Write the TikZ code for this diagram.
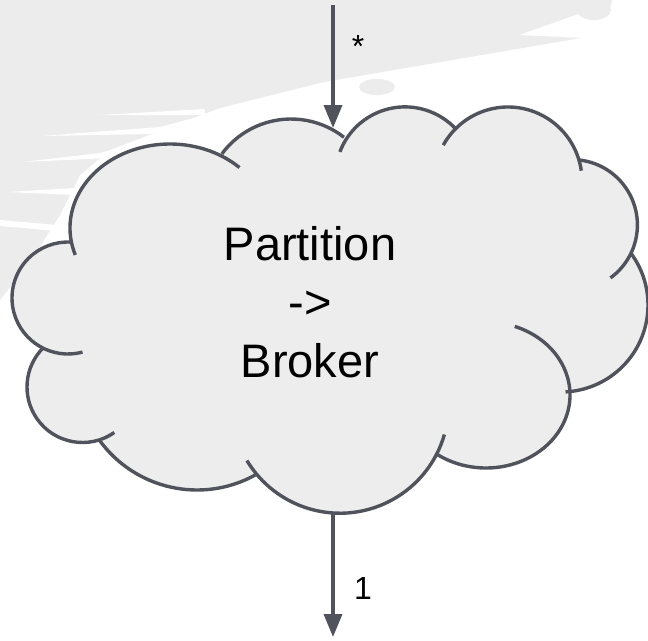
\documentclass[tikz,border=0pt]{standalone}
\usepackage{fontspec}
\setmainfont{Liberation Sans}
\usetikzlibrary{arrows.meta}
\definecolor{bggray}{RGB}{236,236,236}
\definecolor{cloudfill}{RGB}{237,237,237}
\definecolor{edge}{RGB}{80,83,92}
\begin{document}
\begin{tikzpicture}[x=1pt,y=1pt,yscale=-1,
  outline/.style={draw=edge,line width=3.4pt},
  flow/.style={draw=edge,line width=3.6pt,-{Triangle[length=23pt,width=18pt]}},
  cloudtext/.style={font=\fontsize{47}{56}\selectfont,inner sep=0pt,anchor=base,text=black},
  tag/.style={font=\fontsize{32}{38}\selectfont,inner sep=0pt,anchor=base,text=black},
  bg/.style={fill=bggray,draw=none},
  streak/.style={fill=white,draw=none}]
\useasboundingbox (0,0) rectangle (648,640);
\fill[white] (0,0) rectangle (648,640);
% brush-like background
\path[bg] (0,0) -- (612,0) -- (609,12) -- (594,20) -- (578,14) -- (519,35) -- (581,38)
  -- (324,82) -- (220,108) -- (110,150) -- (80,175) -- (60,215) -- (30,262) -- (0,300) -- cycle;
\path[bg] (594,10) ellipse[x radius=17,y radius=10];
\path[bg] (377,87) ellipse[x radius=18,y radius=8];
\path[streak] (100,115) -- (205,109) -- (205,115) -- cycle;
\path[streak] (42,136) -- (160,127) -- (205,115) -- (205,124) -- (150,134) -- cycle;
\path[streak] (23,162) -- (100,153) -- (130,145) -- (110,158) -- cycle;
\path[streak] (7,192) -- (75,188) -- (75,195) -- cycle;
\path[streak] (0,220) -- (68,226) -- (68,232) -- (0,226) -- cycle;
% cloud fill
\fill[cloudfill] (170,228) -- (291,205) -- (405,176.5) -- (508,181) -- (572,225) -- (561,305)
  -- (486,395) -- (340,404.6) -- (197,369.5) -- (82.5,387) -- (68,298) -- cycle;
\foreach \cx/\cy/\rx/\ry in {170/228/100/84, 291/205/86/86, 405/176.5/69.6/69.6, 508/181/74/74,
  572/225/65.4/65.4, 561/305/87/87, 486/395/84/73, 340/404.6/108.6/108.6, 197/369.5/120.5/120.5,
  82.5/387/55.5/55.5, 68/298/56/56}
  \fill[cloudfill] (\cx,\cy) ellipse[x radius=\rx,y radius=\ry];
% cloud outline lobes
\foreach \cx/\cy/\rx/\ry/\sa/\ea in {170/228/100/84/161.3/314, 291/205/86/86/216.5/308,
  405/176.5/69.6/69.6/200.7/317, 508/181/74/74/209/352, 572/225/65.4/65.4/276/414,
  561/305/87/87/-37/87, 486/395/84/73/-70/127, 340/404.6/108.6/108.6/16/149,
  197/369.5/120.5/120.5/61/144, 82.5/387/55.5/55.5/55/225, 68/298/56/56/75/273}
  \draw[outline] (\cx,\cy) ++({\sa}:{\rx} and {\ry}) arc[start angle=\sa,end angle=\ea,x radius=\rx,y radius=\ry];
% text
\node[cloudtext] (line1) at (310,260) {Partition};
\node[cloudtext] (line2) at (310,318.5) {->};
\node[cloudtext] (line3) at (310,377) {Broker};
% connectors
\coordinate (src) at (333,5);
\coordinate (cloudN) at (333,128);
\coordinate (cloudS) at (333,513);
\coordinate (sink) at (333,637);
\draw[flow] (src) -- (cloudN);
\draw[flow] (cloudS) -- (sink);
\node[tag] (star) at (358,57) {*};
\node[tag] (one) at (363,599) {1};
\end{tikzpicture}
\end{document}
